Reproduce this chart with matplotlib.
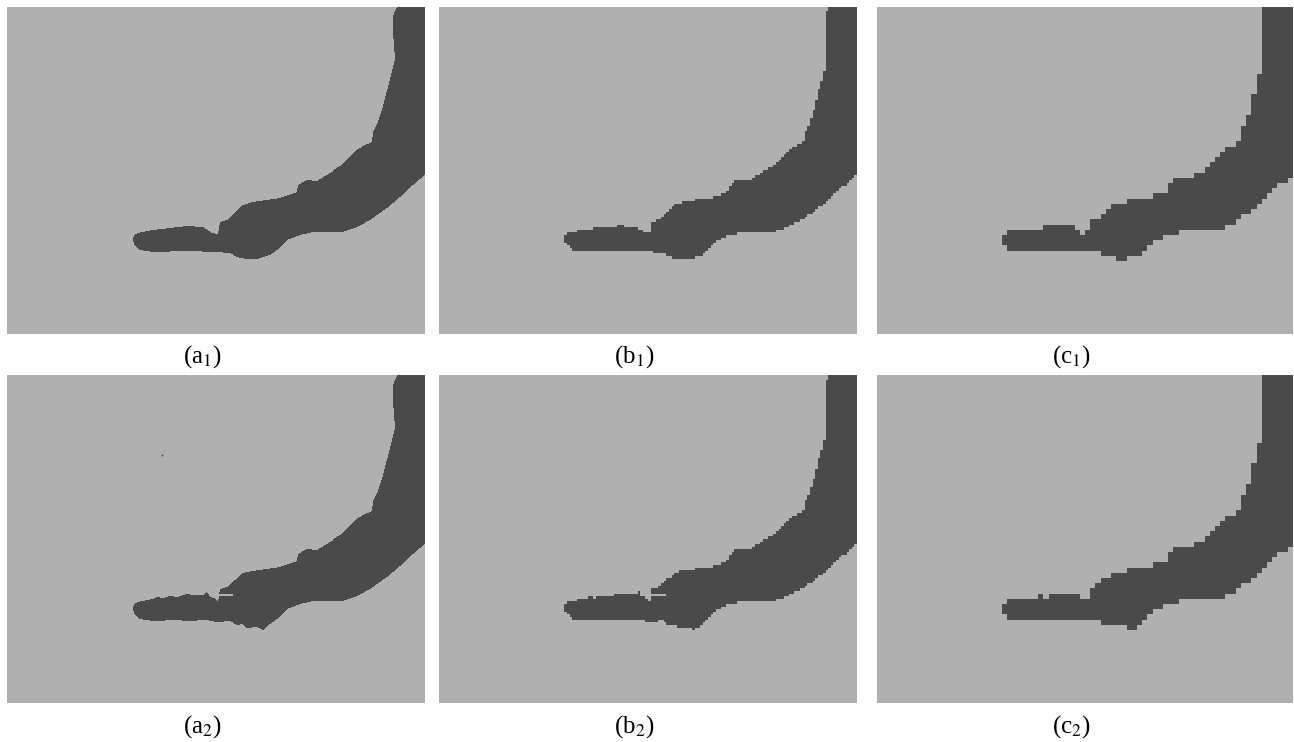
import numpy as np
import matplotlib
matplotlib.use("Agg")
import matplotlib.pyplot as plt
from matplotlib.path import Path
from matplotlib.colors import ListedColormap

# image size of one panel (pixels of the original segmentation)
W, H = 418, 327

# outline of the region, row 1 (clockwise from the tail tip)
shape_x = [126, 127, 131, 146, 163, 180, 196, 205, 211, 213, 220, 236, 246, 273,
           290, 291, 300, 310, 320, 336, 348, 356, 365, 366, 371, 376, 383,
           388, 386, 386, 391, 420,
           420, 406, 393, 380, 363, 350, 336, 306, 293, 280, 270, 263,
           250, 240, 230, 223, 210, 180, 146, 133, 128]
shape_y = [233, 228, 226, 223, 221, 219, 220, 226, 227, 215, 213, 198, 195, 191,
           185, 178, 173, 174, 168, 158, 145, 140, 136, 126, 116, 100, 73,
           53, 26, 10, -2, -2,
           166, 178, 190, 201, 213, 220, 225, 225, 228, 233, 243, 248,
           252, 252, 250, 246, 245, 244, 245, 243, 239]

# outline of the region, row 2 (rougher edges)
shape2_x = [126, 127, 131, 146, 150, 156, 163, 170, 180, 186, 196, 200, 203, 207,
            211, 213, 220, 236, 246, 273, 290, 291, 300, 310, 320, 336, 348,
            356, 365, 366, 371, 376, 383, 388, 386, 386, 391, 420,
            420, 406, 393, 380, 363, 350, 336, 306, 293, 280, 270, 263,
            256, 250, 240, 236, 230, 223, 210, 200, 180, 170, 146, 133, 128]
shape2_y = [233, 228, 226, 223, 221, 222, 220, 221, 218, 219, 219, 216, 221, 222,
            226, 213, 211, 197, 195, 191, 185, 178, 173, 174, 168, 158, 145,
            140, 136, 126, 116, 100, 73, 53, 26, 10, -2, -2,
            166, 178, 190, 201, 213, 220, 225, 225, 228, 233, 243, 248,
            254, 251, 252, 248, 249, 245, 246, 244, 245, 244, 245, 243, 239]

# light streak inside the row 2 region
streak_x = [212, 226, 226, 212]
streak_y = [217.5, 217.5, 220, 220]

# isolated speck in (a2)
speck_x = [155]
speck_y = [80]

# grid resolution per column (a, b, c)
grids = [(418, 327), (160, 126), (80, 63)]
labels = [["a", "b", "c"], ["a", "b", "c"]]
rows = ["1", "2"]

plt.rcParams["font.family"] = ["Liberation Serif", "DejaVu Serif"]
plt.rcParams["mathtext.fontset"] = "stix"

cmap = ListedColormap(["#b0b0b0", "#4a4a4a"])


def rasterize(xs, ys, nx, ny, holes=()):
    cx = (np.arange(nx) + 0.5) * W / nx
    cy = (np.arange(ny) + 0.5) * H / ny
    gx, gy = np.meshgrid(cx, cy)
    pts = np.column_stack([gx.ravel(), gy.ravel()])
    mask = Path(np.column_stack([xs, ys])).contains_points(pts)
    for hx, hy in holes:
        mask &= ~Path(np.column_stack([hx, hy])).contains_points(pts)
    return mask.reshape(ny, nx).astype(float)


FW, FH = 1294, 742
fig = plt.figure(figsize=(FW / 100, FH / 100), dpi=100)

col_px = [(7, 425), (439, 857), (877, 1293)]
row_px = [(7, 334), (375, 703)]
label_y = [357, 727]

for r in range(2):
    for c in range(3):
        x0, x1 = col_px[c]
        y0, y1 = row_px[r]
        ax = fig.add_axes([x0 / FW, 1 - y1 / FH, (x1 - x0) / FW, (y1 - y0) / FH])
        nx, ny = grids[c]
        if r == 0:
            img = rasterize(shape_x, shape_y, nx, ny)
        else:
            img = rasterize(shape2_x, shape2_y, nx, ny, holes=[(streak_x, streak_y)])
        ax.imshow(img, cmap=cmap, vmin=0, vmax=1, extent=(0, W, H, 0),
                  interpolation="nearest", aspect="auto")
        if r == 1 and c == 0:
            ax.plot(speck_x, speck_y, "s", ms=1.2, color="#4a4a4a", mec="none")
        ax.set_xlim(0, W)
        ax.set_ylim(H, 0)
        ax.axis("off")
        fig.text(((x0 + x1) / 2 - 14) / FW, 1 - label_y[r] / FH,
                 "(" + labels[r][c] + "$_{" + rows[r] + "}$)",
                 ha="center", va="center", fontsize=18)

fig.savefig("out.png", dpi=100)
